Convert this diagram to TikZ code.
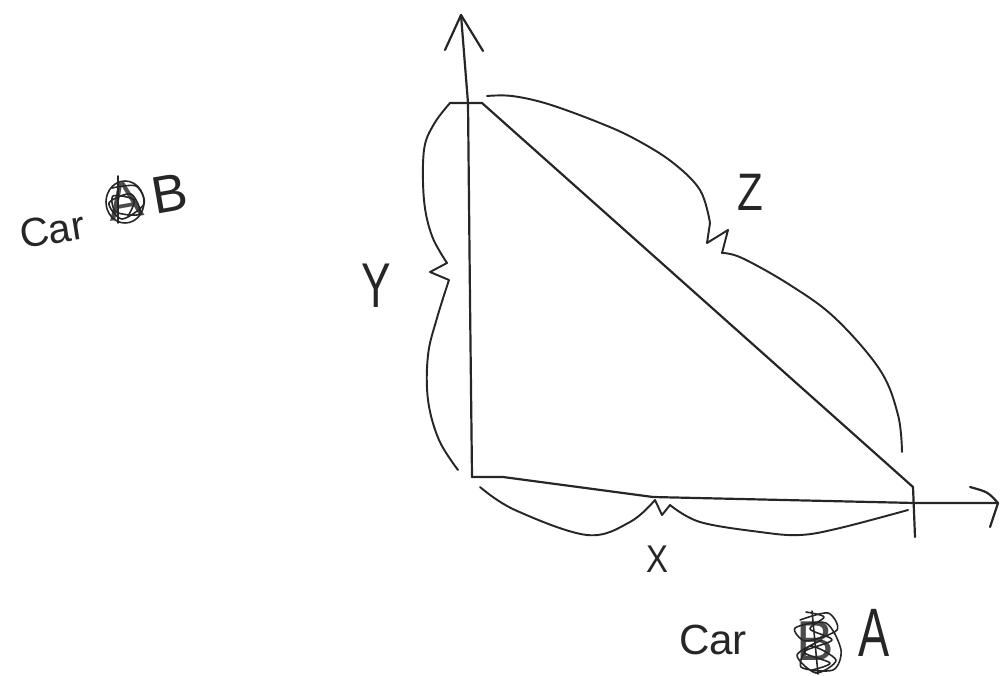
\documentclass[tikz,border=0pt]{standalone}
\usepackage{fontspec}
\setmainfont{Liberation Sans}
\usetikzlibrary{positioning}

\begin{document}
\begin{tikzpicture}[
  x=0.2mm, y=-0.2mm,
  pen/.style={line width=1.25pt,draw=black!85,line cap=round,line join=round},
  brace/.style={pen,line width=1.1pt},
  scrib/.style={pen,line width=0.9pt},
  hand/.style={font=\fontsize{#1}{#1}\selectfont,text=black!85,inner sep=0pt}
]
\useasboundingbox (0,0) rectangle (1002,675);

\coordinate (O)    at (472,477);
\coordinate (top)  at (482,103);
\coordinate (end)  at (913,487);
\coordinate (ytip) at (461,15);
\coordinate (xtip) at (998,503);

% axes
\draw[pen] (O) -- (470,300) -- (468,103) -- (ytip);
\draw[pen] (445,50) -- (ytip) -- (483,51);
\draw[pen] (O) -- (503,477) -- (653,497) -- (915,503) -- (xtip);
\draw[pen] (970,487) .. controls (988,492) .. (xtip) -- (990,527);
\draw[pen] (end) -- (915,537);

% triangle
\draw[pen] (450,103) -- (top) -- (end);

% braces
\draw[brace] (450,103) -- plot[smooth,tension=0.6] coordinates
  {(450,103) (434,124) (424,150) (424,200) (432,236) (447,263)}
  -- (430,272) -- (449,280) -- plot[smooth,tension=0.6] coordinates
  {(449,280) (437,318) (428,355) (428,400) (439,440) (458,470)};
\draw[brace] plot[smooth,tension=0.6] coordinates
  {(480,487) (515,510) (587,535) (630,522) (655,500)}
  -- (662,515) -- (670,505) -- plot[smooth,tension=0.6] coordinates
  {(670,505) (700,522) (760,532) (800,535) (840,528) (908,510)};
\draw[brace] plot[smooth,tension=0.6] coordinates
  {(487,96) (512,96) (548,104) (600,123) (635,139) (672,162) (700,190) (710,223)}
  -- (707,243) -- (728,230) -- (722,253) -- plot[smooth,tension=0.6] coordinates
  {(722,253) (742,258) (790,285) (835,318) (880,370) (898,415) (902,452)};

% labels
\node[hand=36,xscale=0.7,transform shape] (ylbl) at (376,286) {Y};
\node[hand=22,xscale=0.85,transform shape] (xlbl) at (657,559) {X};
\node[hand=30,xscale=0.8,transform shape] (zlbl) at (750,192) {Z};

% car B
\node[hand=23,rotate=9] (carB) at (52,230) {Car};
\node[hand=30,rotate=10,text=black!70] (oldA) at (125,201) {A};
\draw[scrib] (125,202) ellipse (19 and 21);
\draw[scrib] plot[smooth] coordinates
  {(112,188) (136,186) (144,204) (122,219) (109,203) (131,194) (140,214) (116,212)
   (113,196) (134,200) (128,216)};
\draw[scrib] (118,176) -- (118,223);
\node[hand=30,rotate=10] (letB) at (170,194) {B};

% car A
\node[hand=24] (carA) at (713,640) {Car};
\node[hand=32,text=black!70] (oldB) at (815,641) {B};
\draw[scrib] plot[smooth] coordinates
  {(800,620) (828,613) (837,630) (806,641) (795,628) (826,623) (841,650)
   (833,670) (801,667) (810,646) (836,660) (816,673) (797,655) (822,640)};
\draw[scrib] plot[smooth] coordinates
  {(806,612) (824,617) (810,629) (832,640) (804,652) (830,663) (812,670)};
\draw[scrib] (812,611) -- (818,674);
\node[hand=39,xscale=0.68,transform shape] (letA) at (874,633) {A};
\end{tikzpicture}
\end{document}
